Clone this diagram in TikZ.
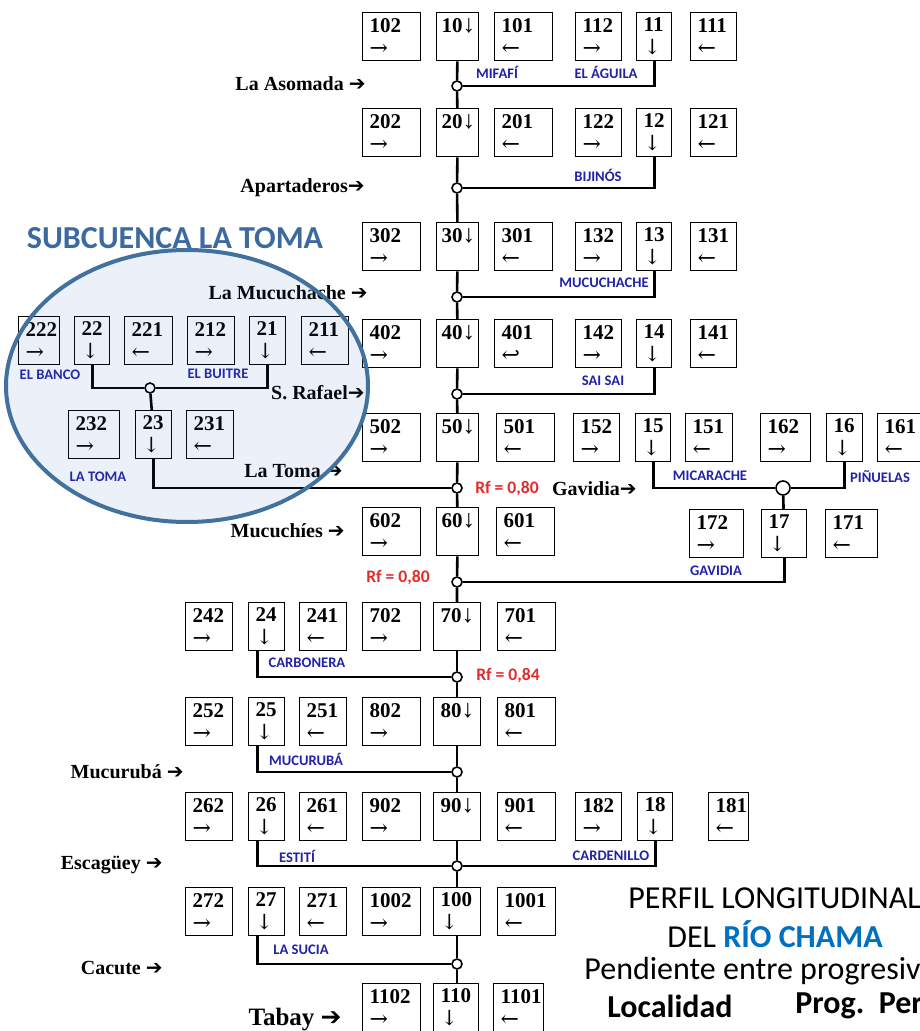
\documentclass[tikz,border=0pt]{standalone}
\usepackage{fontspec}
\setmainfont{Liberation Serif}
\newfontfamily\calibri{Carlito}
\newfontfamily\flecha{DejaVu Sans}
\newfontfamily\flechaserif{DejaVu Serif}
\usetikzlibrary{backgrounds}
\definecolor{TomaEdge}{HTML}{41719C}
\definecolor{TomaFill}{HTML}{4472C4}
\definecolor{TomaTitle}{HTML}{3D6A9E}
\definecolor{RioBlue}{HTML}{2222A8}
\definecolor{RfRed}{HTML}{E42B2B}
\definecolor{ChamaBlue}{HTML}{0070C0}
\newcommand{\numsize}{\fontsize{10.5}{11.5}\selectfont}
\newcommand{\flechita}{{\flecha\bfseries ➔}}
\newcommand{\der}{{\flechaserif\fontsize{11}{11.5}\selectfont →}}
\newcommand{\izq}{{\flechaserif\fontsize{11}{11.5}\selectfont ←}}
\newcommand{\baja}{{\flechaserif\fontsize{10.5}{11.5}\selectfont ↓}}
\newcommand{\vuelta}{{\flechaserif\fontsize{11}{11.5}\selectfont ↩}}
\newcommand{\cae}{{\fontsize{12.5}{11.5}\selectfont ↓}}
\tikzset{
  caja/.style={draw=black, line width=0.7pt, fill=white, align=left,
               inner xsep=3.5pt, inner ysep=0pt, minimum height=24pt, font=\numsize},
  eje/.style={inner xsep=2.5pt},
  tramo/.style={line width=1.3pt, black},
  union/.style={circle, draw=black, fill=white, line width=0.8pt,
                inner sep=0pt, minimum size=5pt},
  rio/.style={font=\calibri\bfseries\fontsize{7.3}{8}\selectfont, text=RioBlue, inner sep=0pt},
  rf/.style={font=\calibri\bfseries\fontsize{8.8}{10}\selectfont, text=RfRed, inner sep=0pt},
  pueblo/.style={font=\bfseries\fontsize{10}{12}\selectfont, anchor=east, inner sep=0pt},
  titulo/.style={font=\calibri\fontsize{16}{18}\selectfont, inner sep=0pt},
}
\begin{document}
\begin{tikzpicture}[x=0.5pt,y=-0.5pt]
  \useasboundingbox (0,0) rectangle (919,1031);

  % \caja[extra]{name}{x}{y}{text width}{number}{arrow}
  \newcommand{\caja}[7][]{%
    \node[caja, #1, text width=#5, anchor=north west] (#2) at (#3,#4) {\textbf{#6}\\#7};
  }

  % main river column
  \caja{b102}{362}{12}{22pt}{102}{\der}   \caja[eje]{b10}{436}{12}{16pt}{10\cae}{\mbox{}}   \caja{b101}{494}{12}{22pt}{101}{\izq}
  \caja{b202}{362}{108}{22pt}{202}{\der}  \caja[eje]{b20}{436}{108}{16pt}{20\cae}{\mbox{}}  \caja{b201}{494}{108}{22pt}{201}{\izq}
  \caja{b302}{362}{222}{22pt}{302}{\der}  \caja[eje]{b30}{436}{222}{16pt}{30\cae}{\mbox{}}  \caja{b301}{494}{222}{22pt}{301}{\izq}
  \caja{b402}{362}{319}{22pt}{402}{\der}  \caja[eje]{b40}{436}{319}{16pt}{40\cae}{\mbox{}}  \caja{b401}{494}{319}{22pt}{401}{\vuelta}
  \caja{b502}{362}{413}{22pt}{502}{\der}  \caja[eje]{b50}{436}{413}{16pt}{50\cae}{\mbox{}}  \caja{b501}{496}{413}{22pt}{501}{\izq}
  \caja{b602}{362}{507}{22pt}{602}{\der}  \caja[eje]{b60}{436}{507}{16pt}{60\cae}{\mbox{}}  \caja{b601}{496}{507}{22pt}{601}{\izq}
  \caja{b702}{362}{602}{22pt}{702}{\der}  \caja{b70}{433}{602}{16.5pt}{70\cae}{\mbox{}}     \caja{b701}{497}{602}{22pt}{701}{\izq}
  \caja{b802}{362}{697}{22pt}{802}{\der}  \caja{b80}{433}{697}{16.5pt}{80\cae}{\mbox{}}     \caja{b801}{497}{697}{22pt}{801}{\izq}
  \caja{b902}{362}{792}{22pt}{902}{\der}  \caja{b90}{433}{792}{16.5pt}{90\cae}{\mbox{}}     \caja{b901}{497}{792}{22pt}{901}{\izq}
  \caja{b1002}{362}{887}{22pt}{1002}{\der} \caja{b100}{433}{887}{16.5pt}{100}{\baja}        \caja{b1001}{497}{887}{22pt}{1001}{\izq}
  \caja{b1102}{362}{983}{22pt}{1102}{\der} \caja{b110}{433}{983}{15.5pt}{110}{\baja}        \caja{b1101}{493}{983}{18pt}{1101}{\izq}

  % right tributaries
  \caja{b112}{575}{12}{16pt}{112}{\der}   \caja{b11}{636}{12}{10.5pt}{11}{\baja}   \caja{b111}{690}{12}{16pt}{111}{\izq}
  \caja{b122}{575}{108}{16pt}{122}{\der}  \caja{b12}{636}{108}{10.5pt}{12}{\baja}  \caja{b121}{690}{108}{16pt}{121}{\izq}
  \caja{b132}{575}{222}{16pt}{132}{\der}  \caja{b13}{636}{222}{10.5pt}{13}{\baja}  \caja{b131}{690}{222}{16pt}{131}{\izq}
  \caja{b142}{575}{319}{16pt}{142}{\der}  \caja{b14}{636}{319}{10.5pt}{14}{\baja}  \caja{b141}{690}{319}{16pt}{141}{\izq}
  \caja{b152}{573}{413}{16pt}{152}{\der}  \caja{b15}{635}{413}{10.5pt}{15}{\baja}  \caja{b151}{685}{413}{16.5pt}{151}{\izq}
  \caja{b162}{760}{413}{18pt}{162}{\der}  \caja{b16}{826}{413}{11pt}{16}{\baja}    \caja{b161}{877}{413}{17pt}{161}{\izq}
  \caja{b172}{689}{509}{20pt}{172}{\der}  \caja{b17}{761}{509}{15.5pt}{17}{\baja}  \caja{b171}{825}{509}{19pt}{171}{\izq}
  \caja{b182}{575}{792}{16pt}{182}{\der}  \caja{b18}{637}{792}{10.5pt}{18}{\baja}  \caja{b181}{708}{792}{13pt}{181}{\izq}

  % left tributaries
  \caja{b222}{18}{316}{13.5pt}{222}{\der}  \caja{b22}{74}{316}{10.5pt}{22}{\baja}   \caja{b221}{124}{316}{17pt}{221}{\izq}
  \caja{b212}{187}{316}{16.5pt}{212}{\der} \caja{b21}{249}{316}{11pt}{21}{\baja}    \caja{b211}{301}{316}{16.5pt}{211}{\izq}
  \caja{b232}{68}{410}{18.5pt}{232}{\der}  \caja{b23}{135}{410}{11pt}{23}{\baja}    \caja{b231}{186}{410}{16.5pt}{231}{\izq}
  \caja{b242}{185}{602}{16.5pt}{242}{\der} \caja{b24}{248}{602}{11pt}{24}{\baja}    \caja{b241}{299}{602}{16.5pt}{241}{\izq}
  \caja{b252}{185}{697}{16.5pt}{252}{\der} \caja{b25}{248}{697}{11pt}{25}{\baja}    \caja{b251}{299}{697}{16.5pt}{251}{\izq}
  \caja{b262}{185}{792}{16.5pt}{262}{\der} \caja{b26}{248}{792}{11pt}{26}{\baja}    \caja{b261}{299}{792}{16.5pt}{261}{\izq}
  \caja{b272}{185}{887}{16.5pt}{272}{\der} \caja{b27}{248}{887}{11pt}{27}{\baja}    \caja{b271}{299}{887}{16.5pt}{271}{\izq}

  % junctions
  \node[union] (j1) at (457,86) {};
  \node[union] (j2) at (457,188) {};
  \node[union] (j3) at (457,297) {};
  \node[union] (j4) at (457,394) {};
  \node[union] (j5) at (457,488) {};
  \node[union] (j6) at (457,582) {};
  \node[union] (j7) at (457,677) {};
  \node[union] (j8) at (457,772) {};
  \node[union] (j9) at (457,866) {};
  \node[union] (j10) at (457,964) {};
  \node[union] (j21) at (150,388) {};
  \node[union, minimum size=7pt] (jg) at (783,488) {};

  \begin{scope}[on background layer]
    \draw[tramo] (b10) -- (j1) -- (b20) -- (j2) -- (b30) -- (j3) -- (b40) -- (j4) -- (b50)
      -- (j5) -- (b60) -- (j6) -- (j6 |- b70.north);
    \draw[tramo] (j6) -- (j7) -- (j8) -- (j9) -- (j10) -- (j10 |- b110.north);
    \draw[tramo] (j1) -| (b11);
    \draw[tramo] (j2) -| (b12);
    \draw[tramo] (j3) -| (b13);
    \draw[tramo] (j4) -| (b14);
    \draw[tramo] (b22) |- (j21) -| (b21);
    \draw[tramo] (j21) -- (b23);
    \draw[tramo] (b23) |- (j5);
    \draw[tramo] (b15) |- (jg) -| (b16);
    \draw[tramo] (jg) -- (b17);
    \draw[tramo] (b17) |- (j6);
    \draw[tramo] ([xshift=-4.5pt]b24.south) |- (j7);
    \draw[tramo] ([xshift=-4.5pt]b25.south) |- (j8);
    \draw[tramo] ([xshift=-4.5pt]b26.south) |- (j9) -| (b18);
    \draw[tramo] ([xshift=-4.5pt]b27.south) |- (j10);
  \end{scope}

  % river names
  \node[rio] (nMifafi) at (497,72) {MIFAFÍ};
  \node[rio] (nAguila) at (606,72) {EL ÁGUILA};
  \node[rio] (nBijinos) at (598,175) {BIJINÓS};
  \node[rio] (nMucuchache) at (604,283) {MUCUCHACHE};
  \node[rio] (nSaiSai) at (603,381) {SAI SAI};
  \node[rio] (nBanco) at (50,375) {EL BANCO};
  \node[rio] (nBuitre) at (218,374) {EL BUITRE};
  \node[rio] (nLaToma) at (98,477) {LA TOMA};
  \node[rio] (nMicarache) at (710,476) {MICARACHE};
  \node[rio] (nPinuelas) at (880,477) {PIÑUELAS};
  \node[rio] (nGavidia) at (716,571) {GAVIDIA};
  \node[rio] (nCarbonera) at (307,663) {CARBONERA};
  \node[rio] (nMucuruba) at (306,759) {MUCURUBÁ};
  \node[rio] (nEstiti) at (297,856) {ESTITÍ};
  \node[rio] (nCardenillo) at (611,856) {CARDENILLO};
  \node[rio] (nSucia) at (301,950) {LA SUCIA};

  % runoff coefficients
  \node[rf] (rf1) at (507,489) {Rf = 0,80};
  \node[rf] (rf2) at (398,578) {Rf = 0,80};
  \node[rf] (rf3) at (508,676) {Rf = 0,84};

  % towns
  \node[pueblo] (tAsomada) at (366,84) {La Asomada \flechita};
  \node[pueblo] (tApartaderos) at (365,188) {Apartaderos\flechita};
  \node[pueblo] (tMucuchache) at (368,293) {La Mucuchache \flechita};
  \node[pueblo] (tRafael) at (365,393) {S. Rafael\flechita};
  \node[pueblo] (tToma) at (343,471) {La Toma \flechita};
  \node[pueblo] (tGavidia) at (637,489) {Gavidia\flechita};
  \node[pueblo] (tMucuchies) at (345,531) {Mucuchíes \flechita};
  \node[pueblo] (tMucuruba) at (184,772) {Mucurubá \flechita};
  \node[pueblo] (tEscaguey) at (163,865) {Escagüey \flechita};
  \node[pueblo] (tCacute) at (163,968) {Cacute \flechita};
  \node[pueblo, font=\bfseries\fontsize{12.5}{15}\selectfont] (tTabay) at (342,1020) {Tabay \flechita};

  % La Toma sub-basin
  \draw[draw=TomaEdge, line width=2pt, fill=TomaFill, fill opacity=0.1]
    (187,386) ellipse [x radius=90.5pt, y radius=68pt];
  \node[font=\calibri\bfseries\fontsize{16}{18}\selectfont, text=TomaTitle, inner sep=0pt]
    (subcuenca) at (175,238) {SUBCUENCA LA TOMA};

  % title block
  \node[titulo, anchor=west] (tit1) at (628,898) {PERFIL LONGITUDINAL};
  \node[titulo] (tit2) at (775,934) {DEL \textbf{\color{ChamaBlue}RÍO CHAMA}};
  \node[titulo, anchor=west] (tit3) at (584,971) {Pendiente entre progresiv};
  \node[titulo, anchor=west, font=\calibri\bfseries\fontsize{16}{18}\selectfont] (tit4) at (607,1006) {Localidad};
  \node[titulo, anchor=west, font=\calibri\bfseries\fontsize{16}{18}\selectfont] (tit5) at (795,1006) {Prog.\ \ Per};

\end{tikzpicture}
\end{document}
